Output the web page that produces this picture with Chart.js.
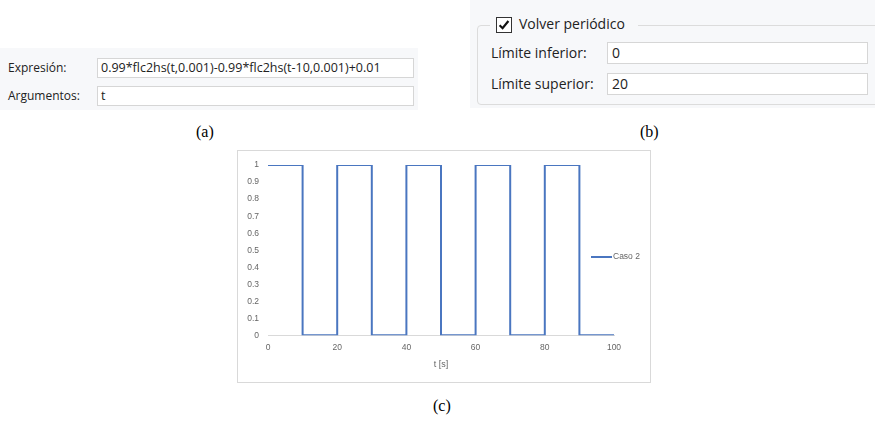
<!DOCTYPE html>
<html>
<head>
<meta charset="utf-8">
<script src="https://cdn.jsdelivr.net/npm/chart.js@4"></script>
<style>
  html, body { margin: 0; padding: 0; background: #fff; }
  body { width: 875px; height: 421px; position: relative; overflow: hidden; font-family: "Open Sans", sans-serif; }
  .abs { position: absolute; }
  .panel { background: #f7f8fa; }
  .lbl { font-size: 12px; color: #222; white-space: nowrap; line-height: 14px; }
  .field { background: #fff; border: 1px solid #d6d6d6; box-sizing: border-box; font-size: 12.5px; color: #222; padding-left: 3px; line-height: 18px; white-space: nowrap; overflow: hidden; }
  .lblB { font-size: 14px; color: #222; white-space: nowrap; line-height: 16px; }
  .fieldB { font-size: 14px; line-height: 20px; padding-left: 4px; }
  .cap { font-family: "Liberation Serif", serif; font-size: 16px; color: #000; }
  #chartBox { left: 237px; top: 150px; width: 414px; height: 233px; border: 1px solid #d9d9d9; box-sizing: border-box; background: #fff; }
  #legend { left: 591px; top: 251px; font-family: "Liberation Sans", sans-serif; font-size: 8.5px; color: #666; white-space: nowrap; }
  #legend span.sw { display: inline-block; width: 21px; height: 2px; background: #4a76c0; vertical-align: middle; margin-right: 1px; }
</style>
</head>
<body>

<!-- (a) expression panel -->
<div class="abs panel" style="left:0;top:48px;width:418px;height:62px;"></div>
<div class="abs lbl" style="left:8px;top:61px;">Expresión:</div>
<div class="abs field" style="left:97px;top:58px;width:317px;height:20px;">0.99*flc2hs(t,0.001)-0.99*flc2hs(t-10,0.001)+0.01</div>
<div class="abs lbl" style="left:8px;top:89px;">Argumentos:</div>
<div class="abs field" style="left:97px;top:86px;width:317px;height:20px;">t</div>

<!-- (b) periodic panel -->
<div class="abs panel" style="left:470px;top:0;width:405px;height:108px;"></div>
<div class="abs" style="left:477px;top:25px;width:410px;height:80px;border:1px solid #dcdcdc;border-radius:4px;box-sizing:border-box;"></div>
<div class="abs panel" style="left:490px;top:14px;width:148px;height:22px;"></div>
<div class="abs" style="left:496px;top:17px;width:16px;height:16px;border:1px solid #333;background:#fff;box-sizing:border-box;">
  <svg width="14" height="14" viewBox="0 0 14 14" style="position:absolute;left:0;top:0;">
    <path d="M2.6 7.2 L5.6 10.2 L11.4 3" stroke="#111" stroke-width="2.2" fill="none"/>
  </svg>
</div>
<div class="abs lblB" style="left:519px;top:16px;">Volver periódico</div>
<div class="abs lblB" style="left:491px;top:45px;">Límite inferior:</div>
<div class="abs field fieldB" style="left:607px;top:42px;width:261px;height:22px;">0</div>
<div class="abs lblB" style="left:491px;top:76px;">Límite superior:</div>
<div class="abs field fieldB" style="left:607px;top:73px;width:261px;height:22px;">20</div>

<!-- captions -->
<div class="abs cap" style="left:196px;top:123px;">(a)</div>
<div class="abs cap" style="left:640px;top:123px;">(b)</div>
<div class="abs cap" style="left:433px;top:397px;">(c)</div>

<!-- (c) chart -->
<div id="chartBox" class="abs">
  <canvas id="pulseChart" width="412" height="231"></canvas>
</div>
<div id="legend" class="abs"><span class="sw"></span>Caso 2</div>

<script>
// ── Data ────────────────────────────────────────────────
const seriesName = 'Caso 2';
const times  = [0, 10, 10, 20, 20, 30, 30, 40, 40, 50, 50, 60, 60, 70, 70, 80, 80, 90, 90, 100];
const values = [1, 1, 0, 0, 1, 1, 0, 0, 1, 1, 0, 0, 1, 1, 0, 0, 1, 1, 0, 0];
const xTicks = [0, 20, 40, 60, 80, 100];
const yTicks = [0, 0.1, 0.2, 0.3, 0.4, 0.5, 0.6, 0.7, 0.8, 0.9, 1];
const xTitle = 't [s]';

const tickFont = { family: 'Liberation Sans', size: 8.5 };
const tickColor = '#666';

const points = times.map((t, i) => ({ x: t, y: values[i] }));

new Chart(document.getElementById('pulseChart').getContext('2d'), {
    type: 'line',
    data: {
        datasets: [{
            label: seriesName,
            data: points,
            borderColor: '#4a76c0',
            borderWidth: 2,
            pointRadius: 0,
            tension: 0,
            fill: false
        }]
    },
    options: {
        responsive: false,
        animation: false,
        layout: { padding: { left: 0, right: 36, top: 12.3, bottom: 0 } },
        plugins: { legend: { display: false }, tooltip: { enabled: false } },
        scales: {
            x: {
                type: 'linear',
                min: 0,
                max: 100,
                afterBuildTicks: s => { s.ticks = xTicks.map(v => ({ value: v })); },
                afterFit: s => { s.height = 46.7; },
                grid: { display: false, drawTicks: false },
                border: { display: true, color: '#d9d9d9', width: 1 },
                ticks: { font: tickFont, color: tickColor, padding: 7, maxRotation: 0 },
                title: { display: true, text: xTitle, font: { family: 'Liberation Sans', size: 9 }, color: tickColor, padding: { top: 2, bottom: 11.6 } }
            },
            y: {
                min: 0,
                max: 1,
                afterBuildTicks: s => { s.ticks = yTicks.map(v => ({ value: v })); },
                afterFit: s => { s.width = 30; },
                grid: { display: false, drawTicks: false },
                border: { display: false },
                ticks: {
                    font: tickFont,
                    color: tickColor,
                    padding: 9,
                    callback: v => String(Math.round(v * 10) / 10)
                }
            }
        }
    }
});
</script>
</body>
</html>
